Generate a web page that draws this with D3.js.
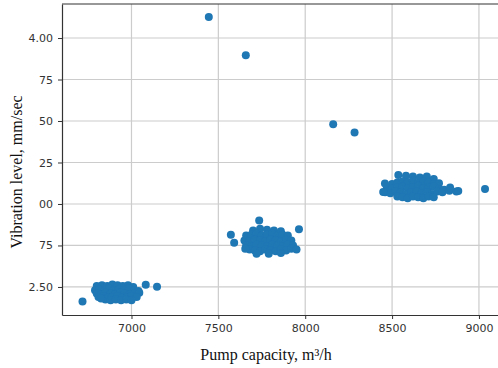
<!DOCTYPE html>
<html>

<head>
    <meta charset='utf-8'>
    <title>Pump capacity vs vibration</title>
    <script type='text/javascript' src='https://cdn.jsdelivr.net/npm/d3@7'></script>
    <style>
        body { margin: 0; background: #fff; }
    </style>
</head>

<body>
    <svg width='498' height='368'></svg>
    <script type='text/javascript'>

        // x = pump capacity (m3/h), y = vibration level (mm/sec)
        const clusterLowX = [6800, 6830, 6860, 6890, 6920, 6950, 6980, 7010,
            6790, 6815, 6845, 6870, 6900, 6925, 6955, 6985, 7015, 7040,
            6800, 6825, 6850, 6880, 6905, 6935, 6960, 6990, 7020, 7045,
            6810, 6840, 6865, 6890, 6920, 6945, 6975, 7000, 7030,
            6850, 6880, 6910, 6940, 6970, 7000, 6825,
            6718, 7082, 7147]
        const clusterLowY = [2.505, 2.51, 2.505, 2.515, 2.51, 2.505, 2.51, 2.50,
            2.48, 2.485, 2.475, 2.49, 2.48, 2.485, 2.48, 2.49, 2.48, 2.475,
            2.46, 2.455, 2.465, 2.46, 2.455, 2.465, 2.46, 2.455, 2.46, 2.465,
            2.44, 2.445, 2.435, 2.44, 2.445, 2.435, 2.44, 2.445, 2.44,
            2.425, 2.42, 2.425, 2.42, 2.425, 2.42, 2.43,
            2.412, 2.513, 2.501]

        const clusterMidX = [7700, 7740, 7780, 7820, 7860,
            7660, 7690, 7720, 7750, 7780, 7810, 7840, 7870, 7900,
            7650, 7680, 7710, 7740, 7770, 7800, 7830, 7860, 7890, 7920,
            7660, 7690, 7720, 7750, 7780, 7810, 7840, 7870, 7900, 7930,
            7680, 7710, 7740, 7770, 7800, 7830, 7860, 7890, 7920, 7950,
            7720, 7790, 7860, 7655,
            7572, 7591, 7735, 7964]
        const clusterMidY = [2.84, 2.85, 2.845, 2.84, 2.835,
            2.81, 2.815, 2.82, 2.81, 2.815, 2.82, 2.81, 2.815, 2.81,
            2.78, 2.775, 2.785, 2.78, 2.775, 2.785, 2.78, 2.775, 2.785, 2.78,
            2.75, 2.745, 2.755, 2.75, 2.745, 2.755, 2.75, 2.745, 2.755, 2.75,
            2.725, 2.72, 2.715, 2.725, 2.72, 2.715, 2.725, 2.72, 2.73, 2.725,
            2.70, 2.70, 2.705, 2.73,
            2.815, 2.766, 2.901, 2.847]

        const clusterHighX = [8536, 8580, 8620, 8660, 8700, 8740,
            8500, 8530, 8560, 8590, 8620, 8650, 8680, 8710, 8740, 8770,
            8470, 8500, 8530, 8560, 8590, 8620, 8650, 8680, 8710, 8740, 8770, 8800,
            8460, 8490, 8520, 8550, 8580, 8610, 8640, 8670, 8700, 8730, 8760, 8790, 8830, 8870,
            8530, 8560, 8590, 8620, 8650, 8680, 8710, 8740,
            8459, 8449, 8881, 8834]
        const clusterHighY = [3.175, 3.17, 3.165, 3.16, 3.165, 3.15,
            3.12, 3.13, 3.135, 3.13, 3.14, 3.125, 3.135, 3.13, 3.12, 3.125,
            3.10, 3.095, 3.10, 3.105, 3.095, 3.10, 3.11, 3.095, 3.10, 3.105, 3.09, 3.085,
            3.07, 3.065, 3.075, 3.07, 3.06, 3.07, 3.075, 3.065, 3.07, 3.06, 3.075, 3.07, 3.08, 3.075,
            3.045, 3.04, 3.035, 3.045, 3.04, 3.035, 3.045, 3.04,
            3.123, 3.072, 3.078, 3.10]

        const outlierX = [7445, 7658, 8161, 8284, 9035]
        const outlierY = [4.127, 3.896, 3.481, 3.431, 3.09]

        const xTicks = [7000, 7500, 8000, 8500, 9000]
        const yTicks = [2.50, 2.75, 3.00, 3.25, 3.50, 3.75, 4.00]
        const yTickLabels = ['2.50', '75', '00', '25', '50', '75', '4.00']

        const svg = d3.select('svg')
        const plot = { left: 62, top: 4, right: 505, bottom: 315 }

        const allX = [...clusterLowX, ...clusterMidX, ...clusterHighX, ...outlierX]
        const allY = [...clusterLowY, ...clusterMidY, ...clusterHighY, ...outlierY]
        const points = allX.map((x, i) => ({ x: x, y: allY[i] }))

        const xScale = d3.scaleLinear().domain([6600, 9150]).range([plot.left, plot.right])
        const yScale = d3.scaleLinear().domain([2.331, 4.205]).range([plot.bottom, plot.top])

        // grid
        const grid = svg.append('g')
        grid.selectAll('.vgrid').data(xTicks).enter().append('line')
            .attr('x1', d => xScale(d)).attr('x2', d => xScale(d))
            .attr('y1', plot.top).attr('y2', plot.bottom)
            .attr('stroke', '#cccccc').attr('stroke-width', 1.2)
        grid.selectAll('.hgrid').data(yTicks).enter().append('line')
            .attr('x1', plot.left).attr('x2', plot.right)
            .attr('y1', d => yScale(d)).attr('y2', d => yScale(d))
            .attr('stroke', '#cccccc').attr('stroke-width', 1.2)

        // points
        svg.append('g').selectAll('circle').data(points).enter().append('circle')
            .attr('cx', d => xScale(d.x))
            .attr('cy', d => yScale(d.y))
            .attr('r', 4)
            .attr('fill', '#1f77b4')

        // axes
        const xAxis = d3.axisBottom(xScale).tickValues(xTicks).tickSize(4).tickSizeOuter(0).tickPadding(5)
            .tickFormat(d3.format('d'))
        const yAxis = d3.axisLeft(yScale).tickValues(yTicks).tickSize(4).tickSizeOuter(0).tickPadding(5)
            .tickFormat((d, i) => yTickLabels[i])

        const gx = svg.append('g').attr('transform', `translate(0, ${plot.bottom})`).call(xAxis)
        const gy = svg.append('g').attr('transform', `translate(${plot.left}, 0)`).call(yAxis)
        for (const g of [gx, gy]) {
            g.select('.domain').attr('stroke', '#333').attr('stroke-width', 1.2)
            g.selectAll('.tick line').attr('stroke', '#333')
            g.selectAll('.tick text')
                .attr('fill', '#333')
                .style('font-family', 'DejaVu Sans')
                .style('font-size', '11px')
        }

        // top spine
        svg.append('line')
            .attr('x1', plot.left).attr('x2', plot.right)
            .attr('y1', plot.top).attr('y2', plot.top)
            .attr('stroke', '#333').attr('stroke-width', 1.2)

        // axis titles
        svg.append('text')
            .attr('x', 266).attr('y', 360)
            .attr('text-anchor', 'middle')
            .style('font-family', 'Liberation Serif')
            .style('font-size', '16px')
            .attr('fill', '#111')
            .text('Pump capacity, m³/h')

        svg.append('text')
            .attr('transform', 'translate(22, 172) rotate(-90)')
            .attr('text-anchor', 'middle')
            .style('font-family', 'Liberation Serif')
            .style('font-size', '16px')
            .attr('fill', '#111')
            .text('Vibration level, mm/sec')
    </script>
</body>

</html>
